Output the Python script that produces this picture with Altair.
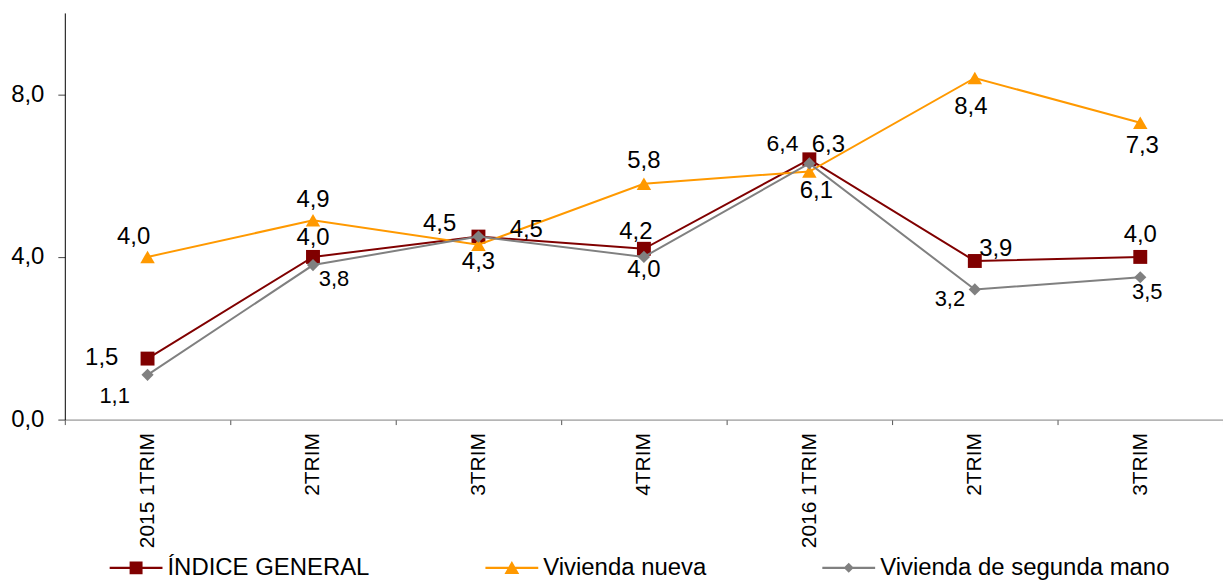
import altair as alt
import pandas as pd

# ---------------- data ----------------
categorias = ["2015 1TRIM", "2TRIM", "3TRIM", "4TRIM", "2016 1TRIM", "2TRIM", "3TRIM"]
series = ["ÍNDICE GENERAL", "Vivienda nueva", "Vivienda de segunda mano"]
indice_general = [1.5, 4.0, 4.5, 4.2, 6.4, 3.9, 4.0]
vivienda_nueva = [4.0, 4.9, 4.3, 5.8, 6.1, 8.4, 7.3]
vivienda_segunda_mano = [1.1, 3.8, 4.5, 4.0, 6.3, 3.2, 3.5]
y_ticks = [0, 4, 8]

# ---------------- styles ----------------
FONT = "Liberation Sans"
colores = ["#800000", "#FF9900", "#808080"]
formas = ["square", "triangle-up", "diamond"]
tamanos = [195, 210, 150]
legend_paths = [
    "M-1,-0.04H1V0.04H-1Z M-0.245,-0.245H0.245V0.245H-0.245Z",
    "M-1,-0.04H1V0.04H-1Z M0,-0.26L0.28,0.23L-0.28,0.23Z",
    "M-1,-0.04H1V0.04H-1Z M0,-0.19L0.19,0L0,0.19L-0.19,0Z",
]
# value-label placement: pixel offsets from each point, and font size
lbl_dx = [[-46, 0, -39, -8, -27, 21, 0],
          [-14, 0, 0, 0, 7, -4, 2],
          [-33, 21, 48, 0, 19, -25, 7]]
lbl_dy = [[-1, -19, -13, -17, -15, -12, -22],
          [-20, -20, 17, -23, 20, 29, 23],
          [21, 14, -7, 13, -18, 10, 15]]
lbl_fs = [[24, 24, 24, 24, 23, 24, 24],
          [24] * 7,
          [22, 22, 24, 24, 24, 22, 22]]

valores = [indice_general, vivienda_nueva, vivienda_segunda_mano]
rows = []
for si, s in enumerate(series):
    for i, v in enumerate(valores[si]):
        rows.append({
            "idx": i, "serie": s, "v": v,
            "label": f"{v:.1f}".replace(".", ","),
            "grp": f"{lbl_dx[si][i]}_{lbl_dy[si][i]}_{lbl_fs[si][i]}",
        })
df = pd.DataFrame(rows)

label_expr = "[" + ",".join(f"'{c}'" for c in categorias) + "][datum.value]"

x_enc = alt.X(
    "idx:O",
    scale=alt.Scale(type="band", domain=list(range(len(categorias))), paddingInner=0, paddingOuter=0),
    axis=alt.Axis(
        title=None, labelExpr=label_expr, labelAngle=270, tickBand="extent",
        domainColor="#808080", tickColor="#555555", tickSize=5, labelPadding=8,
        labelFontSize=21, labelFont=FONT, labelColor="black", grid=False,
    ),
)
y_enc = alt.Y(
    "v:Q",
    scale=alt.Scale(domain=[0, 10]),
    axis=alt.Axis(
        title=None, values=y_ticks, labelExpr="replace(format(datum.value, '.1f'), '.', ',')",
        grid=False, domainColor="black", tickColor="#444444", tickSize=7, labelPadding=14,
        labelFontSize=24, labelFont=FONT, labelColor="black",
    ),
)

base = alt.Chart(df).encode(x=x_enc, y=y_enc)

layers = []
for si, s in enumerate(series):
    sub = base.transform_filter(alt.datum.serie == s)
    layers.append(sub.mark_line(color=colores[si], strokeWidth=2))
    layers.append(sub.mark_point(filled=True, opacity=1, shape=formas[si],
                                 size=tamanos[si], color=colores[si]))

grupos = []
for si in range(len(series)):
    for i in range(len(categorias)):
        key = (lbl_dx[si][i], lbl_dy[si][i], lbl_fs[si][i])
        if key not in grupos:
            grupos.append(key)
for dx, dy, fs in grupos:
    layers.append(
        base.transform_filter(alt.datum.grp == f"{dx}_{dy}_{fs}")
        .mark_text(dx=dx, dy=dy, fontSize=fs, font=FONT, color="black",
                   align="center", baseline="middle")
        .encode(text="label:N")
    )

leg = alt.Legend(
    title=None, orient="none", legendX=45, legendY=530, direction="horizontal",
    symbolSize=2809, symbolStrokeWidth=0, labelFontSize=24, labelFont=FONT,
    labelColor="black", labelLimit=0, columnPadding=116, labelOffset=5, padding=0,
)
layers.append(
    alt.Chart(df).transform_filter("false").mark_point(filled=True, opacity=1).encode(
        color=alt.Color("serie:N", scale=alt.Scale(domain=series, range=colores), legend=leg),
        shape=alt.Shape("serie:N", scale=alt.Scale(domain=series, range=legend_paths), legend=leg),
    )
)

chart = alt.layer(*layers).properties(
    width=1162, height=408,
    autosize=alt.AutoSizeParams(type="none"),
    padding={"left": 57, "top": 4, "right": 0, "bottom": 160},
).configure_view(stroke=None)

chart.save("out.html", embed_options={"renderer": "svg", "actions": False})
